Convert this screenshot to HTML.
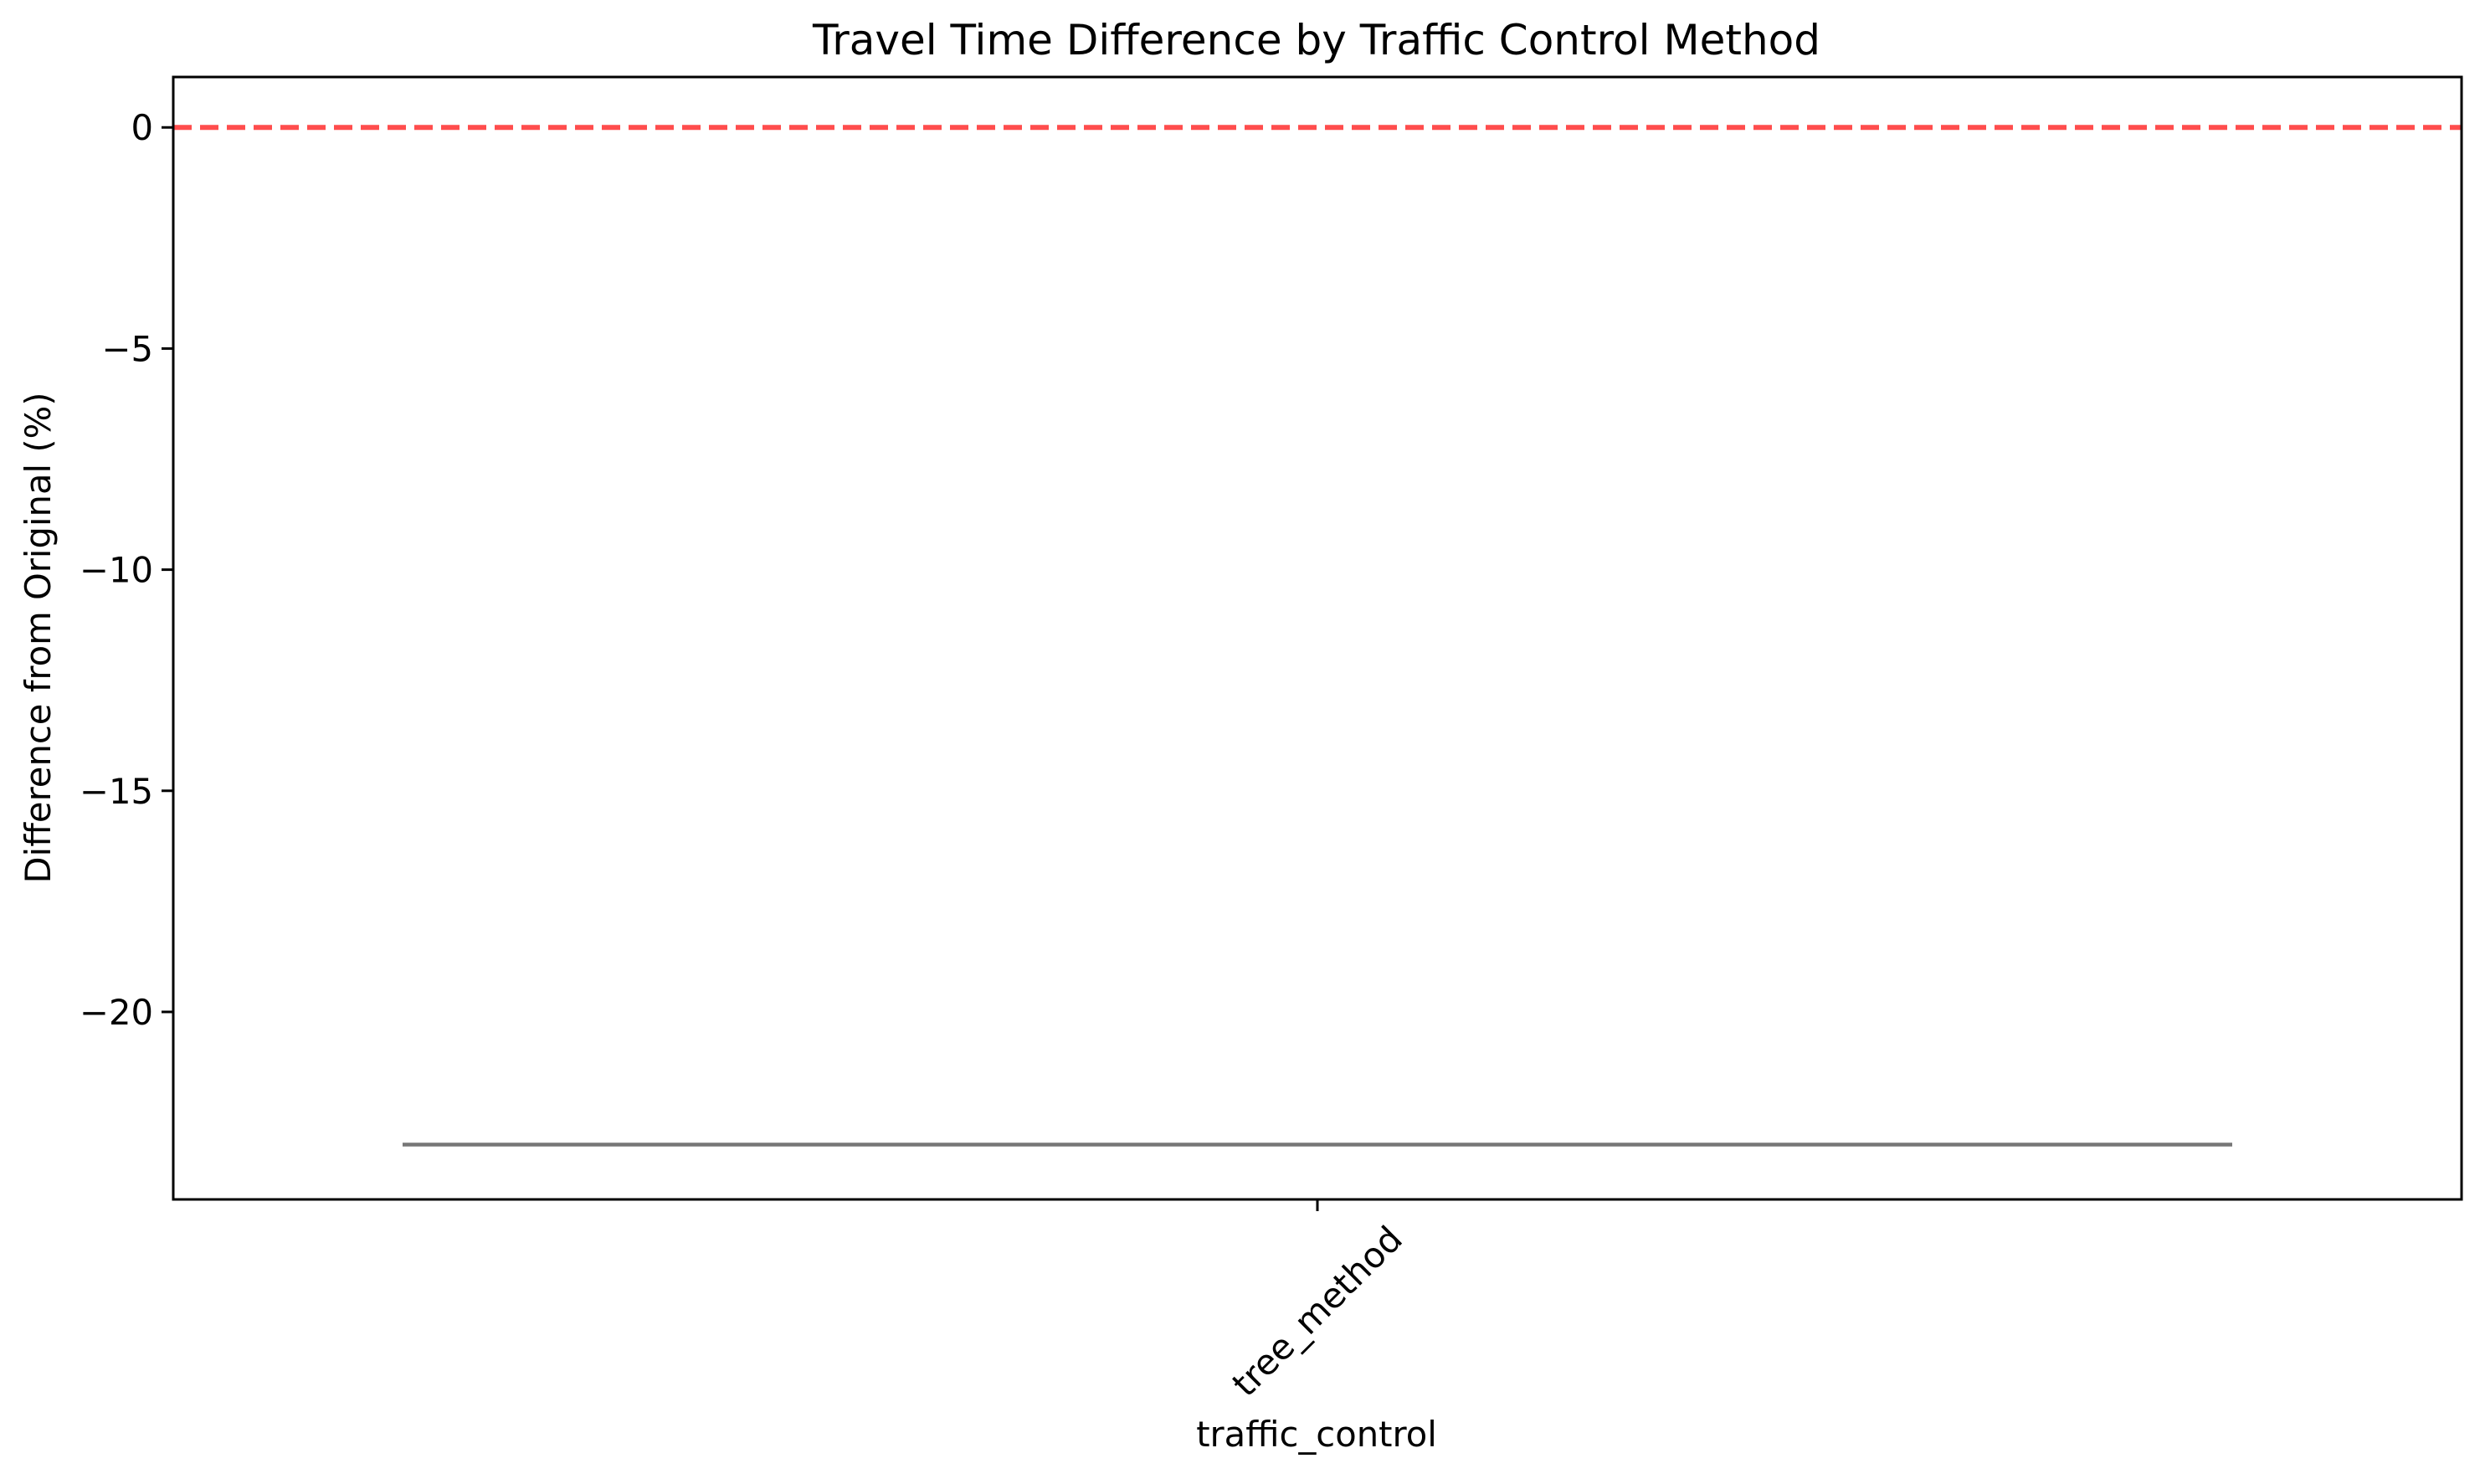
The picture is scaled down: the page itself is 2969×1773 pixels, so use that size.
<!DOCTYPE html>
<html><head><meta charset="utf-8"><style>
html,body{margin:0;padding:0;background:#fff;}
svg text{font-family:"DejaVu Sans","Liberation Sans",sans-serif;fill:#000;}
</style></head><body>
<svg id="chart" width="2969" height="1768" xmlns="http://www.w3.org/2000/svg">
<rect width="2969" height="1768" fill="#fff"/>
<text x="1573" y="65" font-size="50" text-anchor="middle">Travel Time Difference by Traffic Control Method</text>
<g id="plot"></g>
<text transform="translate(60,762) rotate(-90)" font-size="41.7" text-anchor="middle">Difference from Original (%)</text>
<text x="1573" y="1728" font-size="41.7" text-anchor="middle">traffic_control</text>
</svg>
<script>
const categories = ["tree_method"];
const values = [-23.0];
const yTicks = [0, -5, -10, -15, -20];
const yTickLabels = ["0", "\u22125", "\u221210", "\u221215", "\u221220"];
const refValue = [0];

const L = 207, R = 2941, T = 92, B = 1433;
const yMin = -24.24, yMax = 1.14;
const NS = "http://www.w3.org/2000/svg";
const svg = document.getElementById('chart');
const g = document.getElementById('plot');
function y(v){ return T + (yMax - v) / (yMax - yMin) * (B - T); }
function x(i){ return L + (R - L) * ((i + 0.5) / categories.length); }
function mk(tag, attrs){ const e = document.createElementNS(NS, tag); for (const k in attrs) e.setAttribute(k, attrs[k]); return e; }

yTicks.forEach((t, i) => {
  const ln = mk('line', {x1: L - 14, x2: L, y1: y(t), y2: y(t), stroke: '#000', 'stroke-width': 3});
  
  
  svg.appendChild(ln);
  const tx = mk('text', {x: L - 24, y: y(t) + 15, 'font-size': 41.7, 'text-anchor': 'end'});
  tx.textContent = yTickLabels[i];
  
  
  svg.appendChild(tx);
});

const halfW = 1093;
categories.forEach((c, i) => {
  const cx = x(i);
  const ln = mk('line', {x1: cx - halfW, x2: cx + halfW, y1: y(values[i]), y2: y(values[i]), stroke: '#777', 'stroke-width': 4.5});
  
  
  g.appendChild(ln);
  const tk = mk('line', {x1: cx, x2: cx, y1: B, y2: B + 14, stroke: '#000', 'stroke-width': 3});
  
  
  svg.appendChild(tk);
  const tx = mk('text', {x: 0, y: 14, 'font-size': 41.7, 'text-anchor': 'middle', transform: `translate(${cx},${B + 134}) rotate(-45)`});
  tx.textContent = c;
  
  
  svg.appendChild(tx);
});

const ref = mk('line', {x1: L, x2: R, y1: y(refValue[0]), y2: y(refValue[0]), stroke: '#ff4d4d', 'stroke-width': 6, 'stroke-dasharray': '22 10'});


g.appendChild(ref);

const fr = mk('rect', {x: L, y: T, width: R - L, height: B - T, fill: 'none', stroke: '#000', 'stroke-width': 3});


svg.appendChild(fr);
</script>
</body></html>
